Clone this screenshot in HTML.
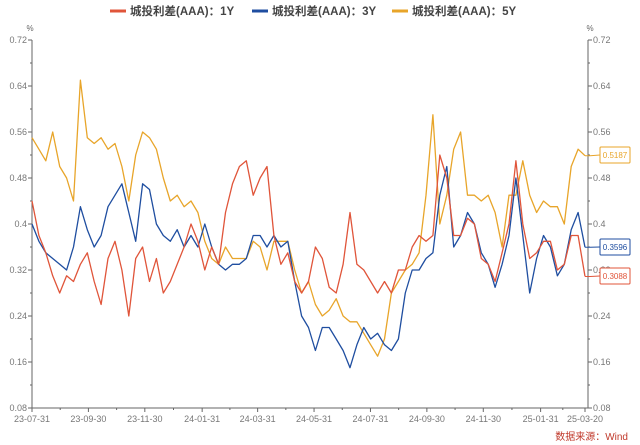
<!DOCTYPE html>
<html><head><meta charset="utf-8"><style>
html,body{margin:0;padding:0;background:#fff;}
svg{display:block;font-family:"Liberation Sans","Noto Sans CJK SC",sans-serif;}
</style></head><body>
<svg id="chart" width="640" height="445" viewBox="0 0 640 445">
<g id="legend"></g>
<g id="axes"></g>
<g id="series"></g>
<g id="callouts"></g>
<text x="628" y="440" text-anchor="end" font-size="10" fill="#c0392b">数据来源：Wind</text>
</svg>
<script>
const yTicks=[0.72,0.64,0.56,0.48,0.4,0.32,0.24,0.16,0.08];
const xTickLabels=["23-07-31","23-09-30","23-11-30","24-01-31","24-03-31","24-05-31","24-07-31","24-09-30","24-11-30","25-01-31","25-03-20"];
const xTickDates=["2023-07-31","2023-09-30","2023-11-30","2024-01-31","2024-03-31","2024-05-31","2024-07-31","2024-09-30","2024-11-30","2025-01-31","2025-03-20"];
const seriesNames=["城投利差(AAA)：1Y","城投利差(AAA)：3Y","城投利差(AAA)：5Y"];
const seriesColors=["#e0553a","#1f4ea0","#e8a52a"];
const values1Y=[0.44,0.38,0.35,0.31,0.28,0.31,0.30,0.33,0.35,0.30,0.26,0.34,0.37,0.32,0.24,0.34,0.36,0.30,0.34,0.28,0.30,0.33,0.36,0.40,0.37,0.32,0.36,0.33,0.42,0.47,0.50,0.51,0.45,0.48,0.50,0.38,0.33,0.35,0.30,0.28,0.30,0.36,0.34,0.29,0.28,0.33,0.42,0.33,0.32,0.30,0.28,0.30,0.28,0.32,0.32,0.36,0.38,0.37,0.38,0.52,0.48,0.38,0.38,0.41,0.40,0.34,0.33,0.30,0.35,0.40,0.51,0.40,0.34,0.35,0.37,0.37,0.32,0.33,0.38,0.38,0.3088];
const values3Y=[0.40,0.37,0.35,0.34,0.33,0.32,0.36,0.43,0.39,0.36,0.38,0.43,0.45,0.47,0.42,0.37,0.47,0.46,0.40,0.38,0.37,0.39,0.36,0.38,0.36,0.40,0.36,0.33,0.32,0.33,0.33,0.34,0.38,0.38,0.36,0.38,0.36,0.37,0.30,0.24,0.22,0.18,0.22,0.22,0.20,0.18,0.15,0.19,0.22,0.20,0.21,0.19,0.18,0.20,0.28,0.32,0.32,0.34,0.35,0.45,0.50,0.36,0.38,0.42,0.40,0.35,0.33,0.29,0.33,0.38,0.48,0.38,0.28,0.34,0.38,0.36,0.31,0.33,0.39,0.42,0.3596];
const values5Y=[0.55,0.53,0.51,0.56,0.50,0.48,0.44,0.65,0.55,0.54,0.55,0.53,0.54,0.50,0.44,0.52,0.56,0.55,0.53,0.48,0.44,0.45,0.43,0.44,0.42,0.37,0.34,0.33,0.36,0.34,0.34,0.34,0.37,0.36,0.32,0.37,0.37,0.37,0.32,0.28,0.30,0.26,0.24,0.25,0.27,0.24,0.23,0.23,0.21,0.19,0.17,0.20,0.28,0.30,0.32,0.33,0.35,0.45,0.59,0.40,0.45,0.53,0.56,0.45,0.45,0.44,0.45,0.42,0.36,0.45,0.45,0.51,0.45,0.42,0.44,0.43,0.43,0.40,0.50,0.53,0.5187];
const NS="http://www.w3.org/2000/svg";
const X0=32,X1=588,Y0=40,Y1=408,VMAX=0.72,VMIN=0.08;
const d0=Date.parse("2023-07-31"),d1=Date.parse("2025-03-20");
const XE=585;
function xDate(s){return X0+(Date.parse(s)-d0)/(d1-d0)*(XE-X0);}
function xIdx(i,n){return X0+i/(n-1)*(XE-X0);}
function yv(v){return Y0+(VMAX-v)/(VMAX-VMIN)*(Y1-Y0);}
function mk(tag,attrs,parent,txt){const e=document.createElementNS(NS,tag);for(const k in attrs)e.setAttribute(k,attrs[k]);if(txt!==undefined)e.textContent=txt;parent.appendChild(e);return e;}
const axes=document.getElementById('axes');
// axis lines
let e=mk('line',{x1:X0,y1:Y0,x2:X0,y2:Y1,stroke:'#666','stroke-width':1},axes);


e=mk('line',{x1:X1,y1:Y0,x2:X1,y2:Y1,stroke:'#666','stroke-width':1},axes);


e=mk('line',{x1:X0,y1:Y1,x2:X1,y2:Y1,stroke:'#666','stroke-width':1},axes);


e=mk('text',{x:30,y:31,'font-size':8,fill:'#666','text-anchor':'middle'},axes,'%');


e=mk('text',{x:590,y:31,'font-size':8,fill:'#666','text-anchor':'middle'},axes,'%');


yTicks.forEach((t,i)=>{
  const y=yv(t);
  mk('line',{x1:X0-4,y1:y,x2:X0,y2:y,stroke:'#666'},axes);
  mk('line',{x1:X1,y1:y,x2:X1+4,y2:y,stroke:'#666'},axes);
  const ym=yv(t-0.04);
  if(i<yTicks.length-1){mk('line',{x1:X0-2,y1:ym,x2:X0,y2:ym,stroke:'#666'},axes);mk('line',{x1:X1,y1:ym,x2:X1+2,y2:ym,stroke:'#666'},axes);}
  let l=mk('text',{x:X0-5,y:y+3,'font-size':9,fill:'#777','text-anchor':'end'},axes,String(t));
  
  
  let r=mk('text',{x:X1+5,y:y+3,'font-size':9,fill:'#777'},axes,String(t));
  
  
});
xTickDates.forEach((d,i)=>{
  const x=xDate(d);
  mk('line',{x1:x,y1:Y1,x2:x,y2:Y1+4,stroke:'#666'},axes);
  if(i<xTickDates.length-1){const xm=(x+xDate(xTickDates[i+1]))/2;mk('line',{x1:xm,y1:Y1,x2:xm,y2:Y1+2,stroke:'#666'},axes);}
  let t=mk('text',{x:x,y:Y1+14,'font-size':9,fill:'#777','text-anchor':'middle'},axes,xTickLabels[i]);
  
  
});
// series
const all=[values1Y,values3Y,values5Y];
const ser=document.getElementById('series');
[2,1,0].forEach(k=>{
  const v=all[k];
  const pts=v.map((d,i)=>xIdx(i,v.length).toFixed(1)+','+yv(d).toFixed(1)).join(' ');
  const p=mk('polyline',{points:pts,fill:'none',stroke:seriesColors[k],'stroke-width':1.3,'stroke-linejoin':'round'},ser);
  
  
});
// callouts
const co=document.getElementById('callouts');
const boxY=[276,247,155];
[0,1,2].forEach(k=>{
  const v=all[k],last=v[v.length-1];
  const yl=yv(last),by=boxY[k];
  mk('polyline',{points:`${XE},${yl} ${XE+5},${yl} ${600},${by}`,fill:'none',stroke:seriesColors[k],'stroke-width':1},co);
  const r=mk('rect',{x:600,y:by-8,width:30,height:16,fill:'#fff',stroke:seriesColors[k],'stroke-width':1,rx:1},co);
  
  
  const t=mk('text',{x:615,y:by+3,'font-size':8,fill:seriesColors[k],'text-anchor':'middle'},co,last.toFixed(4));
  
  
});
// legend
const lg=document.getElementById('legend');
const lx=[110,252,392];
seriesNames.forEach((n,k)=>{
  const g=mk('g',{},lg);
  
  
  mk('line',{x1:lx[k],y1:11,x2:lx[k]+16,y2:11,stroke:seriesColors[k],'stroke-width':3},g);
  mk('text',{x:lx[k]+20,y:15,'font-size':11.5,'font-weight':'bold',fill:'#444'},g,n);
});
</script>
</body></html>
